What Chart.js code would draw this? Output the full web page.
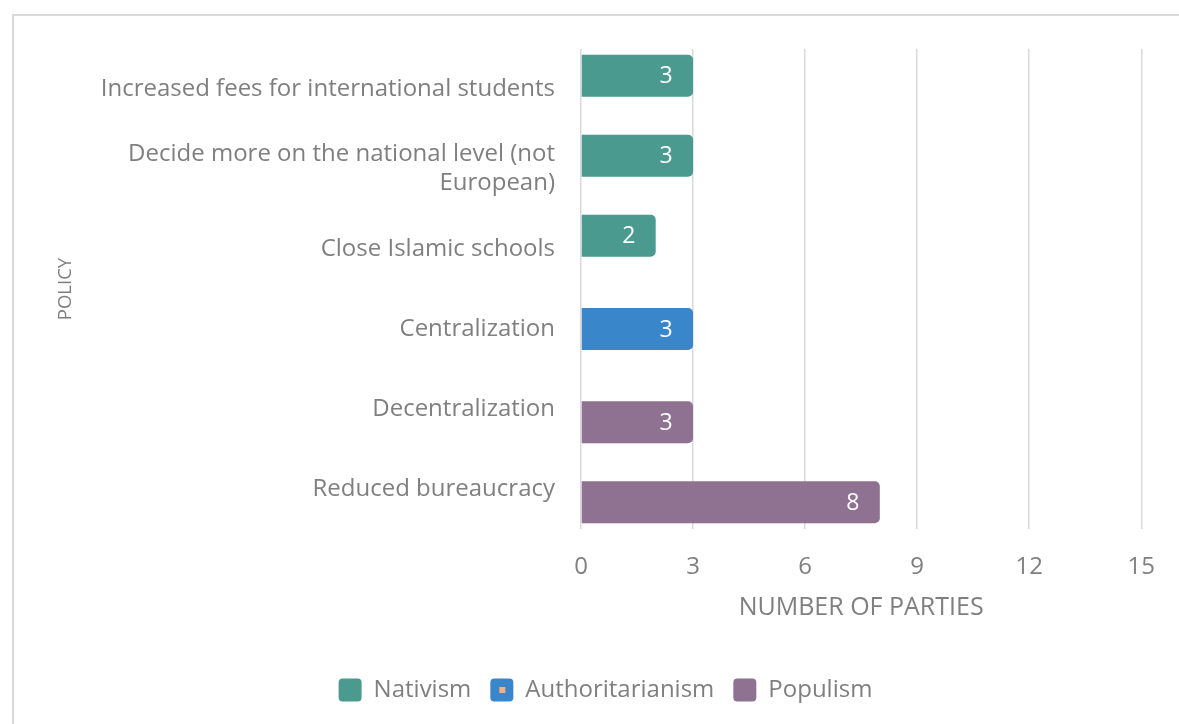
<!DOCTYPE html>
<html>
<head>
<meta charset="utf-8">
<script src="https://cdn.jsdelivr.net/npm/chart.js@4"></script>
<style>
  html, body { margin: 0; padding: 0; background: #fff; overflow: hidden; }
  #frame { position: absolute; left: 12px; top: 14px; width: 1200px; height: 800px; border: 2px solid #d9d9d9; }
  #wrap { position: absolute; left: 0; top: 0; width: 1179px; height: 724px; }
</style>
</head>
<body>
<div id="frame"></div>
<div id="wrap"><canvas id="myChart" width="1179" height="724"></canvas></div>
<script>
// categories (top to bottom)
const policies = [
  'Increased fees for international students',
  ['Decide more on the national level (not', 'European)'],
  'Close Islamic schools',
  'Centralization',
  'Decentralization',
  'Reduced bureaucracy'
];
// one series per ideology, empty where the policy belongs to another one
const nativism = [3, 3, 2, null, null, null];
const authoritarianism = [null, null, null, 3, null, null];
const populism = [null, null, null, null, 3, 8];
const xTicks = [0, 3, 6, 9, 12, 15];

const grey = '#7f7f7f';
const fontName = '"Open Sans", Lato, sans-serif';

// white value labels near the end of every bar
const barLabels = {
  id: 'barLabels',
  afterDatasetsDraw(chart) {
    const ctx = chart.ctx;
    ctx.save();
    ctx.fillStyle = '#ffffff';
    ctx.font = '23px ' + fontName;
    ctx.textAlign = 'center';
    ctx.textBaseline = 'middle';
    chart.data.datasets.forEach(function(ds, i) {
      chart.getDatasetMeta(i).data.forEach(function(bar, j) {
        if (ds.data[j] == null) return;
        ctx.fillText(ds.data[j], bar.x - 27, bar.y + 1);
      });
    });
    ctx.restore();
  }
};

// little marker inside the Authoritarianism legend swatch
const legendDot = {
  id: 'legendDot',
  afterDraw(chart) {
    const boxes = chart.legend && chart.legend.legendHitBoxes;
    if (!boxes || !boxes[1]) return;
    const b = boxes[1];
    const ctx = chart.ctx;
    ctx.save();
    ctx.fillStyle = '#F4B183';
    ctx.fillRect(b.left + 12 - 3, b.top + b.height / 2 - 3, 6, 6);
    ctx.restore();
  }
};

new Chart(document.getElementById('myChart'), {
  type: 'bar',
  data: {
    labels: policies,
    datasets: [
      { label: 'Nativism', data: nativism, backgroundColor: '#4A9A90' },
      { label: 'Authoritarianism', data: authoritarianism, backgroundColor: '#3A86CB' },
      { label: 'Populism', data: populism, backgroundColor: '#8F7291' }
    ]
  },
  options: {
    indexAxis: 'y',
    responsive: false,
    animation: false,
    categoryPercentage: 0.5,
    barPercentage: 3.15,
    borderRadius: 5,
    layout: { padding: { top: 49, right: 35, bottom: 12, left: 67 } },
    scales: {
      x: {
        min: 0,
        max: 15,
        afterBuildTicks: function(scale) { scale.ticks = xTicks.map(v => ({ value: v })); },
        afterFit: function(scale) { scale.height = 130; },
        grid: { color: '#d9d9d9', lineWidth: 1.5, drawTicks: false },
        border: { display: false },
        ticks: { color: grey, padding: 24, font: { family: fontName, size: 24 } },
        title: {
          display: true,
          text: 'NUMBER OF PARTIES',
          color: grey,
          font: { family: fontName, size: 25 },
          padding: { top: 0, bottom: 36 }
        }
      },
      y: {
        afterFit: function(scale) { scale.width = 514; },
        grid: { display: false },
        border: { display: false },
        ticks: { color: grey, padding: 18, font: { family: fontName, size: 24 } },
        title: {
          display: true,
          text: 'POLICY',
          color: grey,
          font: { family: fontName, size: 18.5 },
          padding: { top: -12, bottom: 0 }
        }
      }
    },
    plugins: {
      legend: {
        position: 'bottom',
        labels: {
          color: grey,
          font: { family: fontName, size: 24 },
          boxWidth: 23,
          boxHeight: 23,
          padding: 19,
          useBorderRadius: true,
          borderRadius: 4
        }
      },
      tooltip: { enabled: false }
    }
  },
  plugins: [barLabels, legendDot]
});
</script>
</body>
</html>
